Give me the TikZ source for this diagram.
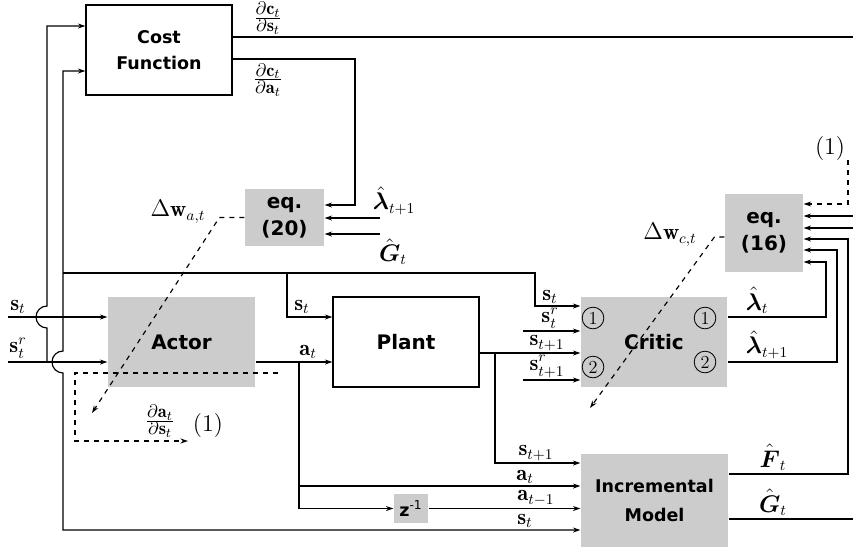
\documentclass[tikz,border=0pt]{standalone}
\usepackage{amsmath}
\usepackage{amssymb}
\usepackage{fontspec}
\setsansfont{DejaVu Sans}
\usetikzlibrary{arrows.meta}

\newcommand{\pfrac}[2]{\frac{\textstyle #1}{\textstyle #2}}

\tikzset{
  blk/.style={draw, line width=0.7pt, fill=white, align=center, inner sep=0pt,
    font=\sffamily\bfseries\fontsize{12}{15}\selectfont},
  gblk/.style={blk, draw=none, fill=black!20},
  lbl/.style={inner sep=0pt, font=\fontsize{13.5}{15}\selectfont},
  flbl/.style={lbl, font=\fontsize{11}{13}\selectfont},
  num/.style={circle, draw, line width=0.5pt, minimum size=13pt, inner sep=0pt,
    font=\fontsize{11}{12}\selectfont},
  sig/.style={line width=0.7pt},
  dsig/.style={sig, dashed}
}

\begin{document}
\begin{tikzpicture}[x=0.6pt,y=-0.6pt,>={Stealth[length=4.5pt,width=3pt]}]
\useasboundingbox (0,0) rectangle (853,547);

\node[blk,font=\sffamily\bfseries\fontsize{10.5}{15.5}\selectfont,minimum width=87.6pt,minimum height=54pt] (cost) at (159,50) {Cost\\Function};
\node[gblk,font=\sffamily\bfseries\fontsize{12}{16}\selectfont,minimum width=47.4pt,minimum height=34.2pt] (eqa) at (284.5,217.5) {eq.\\(20)};
\node[gblk,minimum width=88.2pt,minimum height=54pt] (actor) at (181.5,342) {Actor};
\node[blk,minimum width=87.6pt,minimum height=54pt] (plant) at (406,342) {Plant};
\node[gblk,minimum width=87.6pt,minimum height=54pt] (critic) at (654,342) {Critic};
\node[gblk,font=\sffamily\bfseries\fontsize{12}{16}\selectfont,minimum width=46.8pt,minimum height=46.8pt] (eqc) at (764,233) {eq.\\(16)};
\node[gblk,font=\sffamily\bfseries\fontsize{10.5}{17}\selectfont,minimum width=88.2pt,minimum height=55.8pt] (model) at (654.5,500.5) {Incremental\\Model};
\node[gblk,font=\sffamily\bfseries\fontsize{10.5}{12}\selectfont,minimum width=20.4pt,minimum height=17.4pt] (zdel) at (411,508.5) {z\textsuperscript{\mdseries -1}};

\node[num] (ci1) at (593,318) {1};
\node[num] (ci2) at (593,367) {2};
\node[num] (co1) at (705,318) {1};
\node[num] (co2) at (705,362) {2};

\node[flbl,anchor=south] (lcs) at (268,35) {$\pfrac{\partial\mathbf{c}_t}{\partial\mathbf{s}_t}$};
\node[flbl,anchor=north] (lca) at (268,63) {$\pfrac{\partial\mathbf{c}_t}{\partial\mathbf{a}_t}$};
\node[lbl,anchor=south] (llam) at (394,215) {$\hat{\boldsymbol{\lambda}}_{t+1}$};
\node[lbl,anchor=north] (lga) at (393,238) {$\hat{\boldsymbol{G}}_t$};
\node[lbl] (ldwa) at (178,212) {$\Delta\mathbf{w}_{a,t}$};
\node[lbl,anchor=south] (ls) at (18,314) {$\mathbf{s}_t$};
\node[lbl,anchor=south] (lsr) at (18,359) {$\mathbf{s}^r_t$};
\node[lbl,anchor=south] (lps) at (302,314) {$\mathbf{s}_t$};
\node[lbl,anchor=south] (lpa) at (308,359) {$\mathbf{a}_t$};
\node[flbl,anchor=south] (ldas) at (160,438) {$\pfrac{\partial\mathbf{a}_t}{\partial\mathbf{s}_t}$};
\node[lbl] (lone) at (208,425) {$(1)$};
\node[lbl,anchor=south] (lcs1) at (550,304) {$\mathbf{s}_t$};
\node[lbl,anchor=south] (lcs2) at (550,329) {$\mathbf{s}^r_t$};
\node[lbl,anchor=south] (lcs3) at (547,351) {$\mathbf{s}_{t+1}$};
\node[lbl,anchor=south] (lcs4) at (547,378) {$\mathbf{s}^r_{t+1}$};
\node[lbl,anchor=south] (llt) at (757,314) {$\hat{\boldsymbol{\lambda}}_t$};
\node[lbl,anchor=south] (llt1) at (767,359) {$\hat{\boldsymbol{\lambda}}_{t+1}$};
\node[lbl] (ldwc) at (670,235) {$\Delta\mathbf{w}_{c,t}$};
\node[lbl] (ltwo) at (830,148) {$(1)$};
\node[lbl,anchor=south] (lms1) at (536,461) {$\mathbf{s}_{t+1}$};
\node[lbl,anchor=south] (lma1) at (525,484) {$\mathbf{a}_t$};
\node[lbl,anchor=south] (lma2) at (536,506) {$\mathbf{a}_{t-1}$};
\node[lbl,anchor=south] (lms2) at (525,528) {$\mathbf{s}_t$};
\node[lbl,anchor=south] (lf) at (773,471) {$\hat{\boldsymbol{F}}_t$};
\node[lbl,anchor=south] (lg) at (773,516) {$\hat{\boldsymbol{G}}_t$};

\coordinate (sin) at (8,317);
\coordinate (srin) at (8,362);
\draw[sig,->] (sin) -- (sin -| actor.west);
\draw[sig,->] (srin) -- (srin -| actor.west);
\coordinate (ja) at (47,362);
\coordinate (ca) at (47,26);
\draw[sig,->] (ja) -- (47,328) arc[start angle=90,end angle=270,radius=11] -- (ca) -- (ca -| cost.west);
\coordinate (cb) at (63,71);
\coordinate (mb) at (63,530);
\draw[sig,<->] (cb -| cost.west) -- (cb) -- (63,351) arc[start angle=270,end angle=90,radius=11] -- (mb) -- (mb -| model.west);

\coordinate (jc) at (63,273);
\coordinate (jd) at (287,273);
\coordinate (je) at (535,273);
\coordinate (ks) at (535,306);
\draw[sig,->] (jc) -- (je) -- (ks) -- (ks -| critic.west);
\draw[sig,->] (jd) |- (sin -| plant.west);

\draw[sig,->] (srin -| actor.east) -- (srin -| plant.west);
\coordinate (jf) at (299,362);
\coordinate (jg) at (299,486);
\draw[sig,->] (jf) |- (zdel.west);
\draw[sig,->] (jg) -- (jg -| model.west);
\draw[sig,->] (zdel.east) -- (zdel.east -| model.west);

\coordinate (po) at ([yshift=-6.6pt]plant.east);
\draw[sig,->] (po) -- (po -| critic.west);
\coordinate (jh) at (495,353);
\coordinate (mh) at (495,463);
\draw[sig,->] (jh) -- (mh) -- (mh -| model.west);
\coordinate (kr1) at (523,331);
\coordinate (kr2) at (523,380);
\draw[sig,->] (kr1) -- (kr1 -| critic.west);
\draw[sig,->] (kr2) -- (kr2 -| critic.west);

\coordinate (er1) at (853,37);
\draw[sig] (er1 -| cost.east) -- (er1);
\coordinate (kc) at (355,59);
\coordinate (ka) at (355,205);
\draw[sig,->] (kc -| cost.east) -- (kc) -- (ka) -- (ka -| eqa.east);
\coordinate (fl) at (380,218);
\coordinate (fg) at (380,234);
\draw[sig,->] (fl) -- (fl -| eqa.east);
\draw[sig,->] (fg) -- (fg -| eqa.east);

\coordinate (ko1) at (826,317);
\coordinate (kq1) at (826,262);
\draw[sig,->] (ko1 -| critic.east) -- (ko1) -- (kq1) -- (kq1 -| eqc.east);
\coordinate (ko2) at (837,362);
\coordinate (kq2) at (837,250);
\draw[sig,->] (ko2 -| critic.east) -- (ko2) -- (kq2) -- (kq2 -| eqc.east);
\coordinate (ko3) at (848,474);
\coordinate (kq3) at (848,239);
\draw[sig,->] (ko3 -| model.east) -- (ko3) -- (kq3) -- (kq3 -| eqc.east);
\coordinate (er2) at (853,519);
\draw[sig] (er2 -| model.east) -- (er2);
\coordinate (er3) at (853,216);
\coordinate (er4) at (853,228);
\draw[sig,->] (er3) -- (er3 -| eqc.east);
\draw[sig,->] (er4) -- (er4 -| eqc.east);
\coordinate (kd) at (848,160);
\coordinate (kq0) at (848,204);
\draw[dsig,->] (kd) -- (kq0) -- (kq0 -| eqc.east);

\coordinate (dwa) at (92,413);
\draw[dsig,->] (eqa.west) -- ++(-25,0) -- (dwa);
\coordinate (dwc) at (590,408);
\draw[dsig,->] ([yshift=-2.4pt]eqc.west) -- ++(-10,0) -- (dwc);
\coordinate (da1) at (278,373);
\coordinate (da2) at (75,373);
\coordinate (da3) at (75,441);
\coordinate (da4) at (188,441);
\draw[dsig,->] (da1) -- (da2) -- (da3) -- (da4);
\end{tikzpicture}
\end{document}
